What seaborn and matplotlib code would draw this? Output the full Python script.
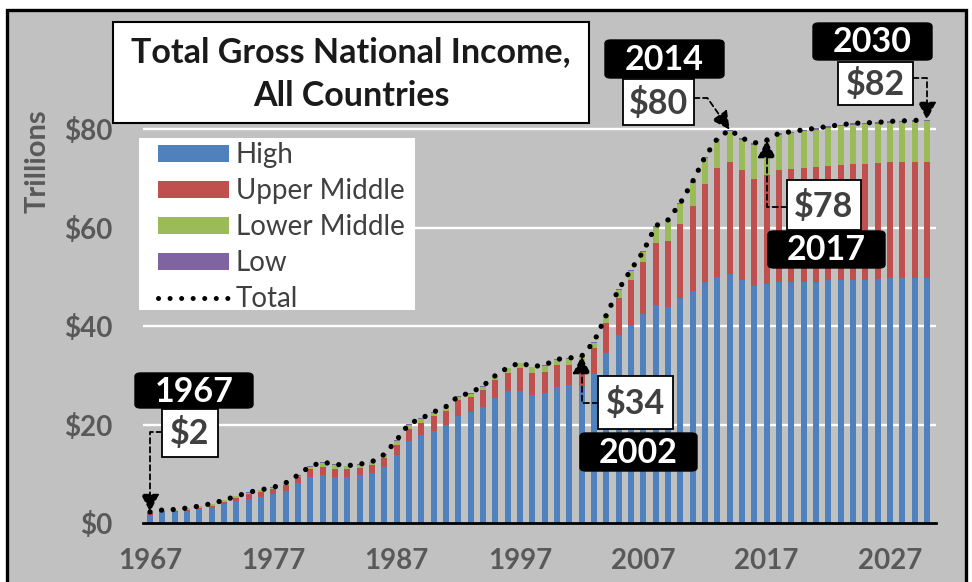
import numpy as np
import pandas as pd
import matplotlib
matplotlib.use("Agg")
import matplotlib.pyplot as plt
import seaborn as sns
from matplotlib.patches import Patch, Rectangle, FancyBboxPatch
from matplotlib.lines import Line2D

# ---------------------------------------------------------------- data (trillions of US$)
years = list(range(1967, 2031))

high = [1.7, 2.2, 2.2, 2.5, 2.9, 3.1, 3.9, 4.6, 4.9, 5.4,
        5.9, 6.6, 8.2, 9.5, 9.9, 9.5, 9.5, 9.8, 10.3, 11.5,
        13.9, 16.8, 17.9, 18.8, 20.0, 21.7, 22.5, 23.7, 25.4, 26.9,
        26.9, 26.0, 26.5, 27.7, 28.1, 27.9, 30.3, 34.6, 38.2, 40.3,
        42.5, 44.3, 44.0, 45.7, 47.2, 48.9, 50.1, 50.6, 49.4, 48.2,
        48.6, 48.9, 48.9, 48.9, 48.9, 49.3, 49.4, 49.4, 49.4, 49.5,
        49.7, 49.7, 49.7, 49.7]

upper_middle = [0.3, 0.3, 0.3, 0.3, 0.3, 0.5, 0.5, 0.6, 1.0, 1.0,
                1.0, 1.2, 1.2, 1.6, 1.6, 1.6, 1.5, 1.5, 1.5, 1.8,
                2.0, 2.4, 2.5, 2.9, 2.9, 3.3, 3.2, 3.4, 3.7, 3.7,
                4.6, 4.6, 4.3, 4.4, 4.0, 4.3, 5.2, 6.1, 7.5, 9.0,
                10.5, 12.7, 13.4, 15.0, 17.2, 20.0, 22.0, 22.7, 22.3, 21.8,
                22.2, 22.8, 23.1, 23.2, 23.5, 23.2, 23.3, 23.5, 23.6, 23.7,
                23.6, 23.6, 23.6, 23.6]

lower_middle = [0.25, 0.15, 0.25, 0.25, 0.25, 0.35, 0.25, 0.25, 0.35, 0.3,
                0.3, 0.3, 0.3, 0.4, 0.8, 0.8, 0.6, 0.6, 0.6, 0.6,
                0.9, 0.85, 0.75, 0.75, 0.65, 0.65, 0.65, 0.65, 0.75, 0.85,
                0.95, 1.05, 1.2, 1.05, 1.3, 1.6, 1.2, 1.4, 1.6, 2.0,
                2.0, 3.2, 4.0, 4.1, 4.7, 5.2, 5.7, 6.3, 6.2, 6.9,
                6.7, 7.2, 7.2, 7.5, 7.5, 7.8, 7.9, 8.0, 8.0, 7.9,
                8.0, 8.1, 8.2, 8.3]

low = [0.05] * 9 + [0.1] * 12 + [0.15] * 16 + [0.2] * 7 + [0.3] * 20

tick_years = [1967, 1977, 1987, 1997, 2007, 2017, 2027]
y_ticks = [0, 20, 40, 60, 80]
callout_years = [1967, 2002, 2014, 2017, 2030]

# ---------------------------------------------------------------- style
BLUE, RED, GREEN, PURPLE = "#4f81bd", "#c0504d", "#9bbb59", "#8064a2"
GRAY_BG = "#c1c1c1"
LABEL_GRAY = "#595959"

sns.set_style("white")
plt.rcParams["font.family"] = ["Lato", "DejaVu Sans"]

W, H = 972, 582
fig = plt.figure(figsize=(W / 100, H / 100), dpi=100, facecolor="white")


def fx(x):
    return x / W


def fy(y):
    return 1 - y / H


# gray chart area with black frame
fig.patches.append(Rectangle((fx(7), fy(600)), (966 - 7) / W, (600 - 10) / H,
                             transform=fig.transFigure, facecolor=GRAY_BG,
                             edgecolor="black", lw=2.4, zorder=-1))

ax = fig.add_axes([fx(143), fy(523.3), (936 - 143) / W, (523.3 - 80) / H])
ax.set_facecolor("none")

df = pd.DataFrame({"year": years, "High": high, "Upper Middle": upper_middle,
                   "Lower Middle": lower_middle, "Low": low})
df["c_high"] = df["High"]
df["c_upper"] = df["c_high"] + df["Upper Middle"]
df["c_lower"] = df["c_upper"] + df["Lower Middle"]
df["total"] = df["c_lower"] + df["Low"]

# stacked bars: cumulative layers drawn from the top segment down
for col, color in [("total", PURPLE), ("c_lower", GREEN),
                   ("c_upper", RED), ("c_high", BLUE)]:
    sns.barplot(data=df, x="year", y=col, color=color, saturation=1,
                width=0.5, linewidth=0, errorbar=None, ax=ax, zorder=2)

# dotted total line
pos = np.arange(len(years))
sns.lineplot(x=pos, y=df["total"].to_numpy(), ax=ax, color="black", lw=3.8)
tot_line = ax.lines[-1]
tot_line.set_linestyle((0, (0.01, 2.2)))
tot_line.set_dash_capstyle("round")
tot_line.set_zorder(4)

for v in y_ticks[1:]:
    ax.axhline(v, color="white", lw=1.7, zorder=1)

ax.set_xlim(-0.57, len(years) - 1 + 0.73)
ax.set_ylim(0, 90)
ax.set_xticks([years.index(y) for y in tick_years])
ax.set_xticklabels([str(y) for y in tick_years])
ax.set_yticks(y_ticks)
ax.set_yticklabels([f"${v}" for v in y_ticks])
ax.set_xlabel("")
ax.set_ylabel("")
ax.tick_params(length=0, labelsize=20, labelcolor=LABEL_GRAY)
ax.tick_params(axis="y", pad=22)
ax.tick_params(axis="x", pad=18)
for lab in ax.get_xticklabels() + ax.get_yticklabels():
    lab.set_fontweight("bold")
for s in ["left", "top", "right"]:
    ax.spines[s].set_visible(False)
ax.spines["bottom"].set_color("black")
ax.spines["bottom"].set_linewidth(2)
ax.spines["bottom"].set_zorder(5)

fig.text(fx(38), fy(161), "Trillions", rotation=90, ha="center", va="center",
         fontsize=21, fontweight="bold", color=LABEL_GRAY)

# title box
fig.patches.append(Rectangle((fx(113), fy(123)), (589 - 113) / W, (123 - 22) / H,
                             transform=fig.transFigure, facecolor="white",
                             edgecolor="black", lw=1.5, zorder=3))
fig.text(fx(351), fy(52), "Total Gross National Income,", ha="center", va="center",
         fontsize=24.5, fontweight="bold", color="#1a1a1a", zorder=4)
fig.text(fx(351), fy(96), "All Countries", ha="center", va="center",
         fontsize=24.5, fontweight="bold", color="#1a1a1a", zorder=4)

# legend on a white panel
ax.add_patch(Rectangle((fx(139), fy(310)), (415 - 139) / W, (310 - 138) / H,
                       transform=fig.transFigure, facecolor="white",
                       edgecolor="none", zorder=6, clip_on=False))
handles = [Patch(facecolor=c, edgecolor="none") for c in (BLUE, RED, GREEN, PURPLE)]
handles.append(Line2D([], [], color="black", lw=3.6, linestyle=(0, (0.01, 2.3)),
                      dash_capstyle="round"))
leg = ax.legend(handles, ["High", "Upper Middle", "Lower Middle", "Low", "Total"],
                loc="upper left", bbox_to_anchor=(fx(158), fy(142)),
                bbox_transform=fig.transFigure, frameon=False, borderpad=0,
                borderaxespad=0, handlelength=2.55, handleheight=0.55,
                handletextpad=0.25, labelspacing=0.36, prop=dict(size=20),
                labelcolor="#404040")
leg.set_zorder(7)

# callouts: (black year box), (white value box), arrow start, connection
callout_layout = {
    1967: dict(black=(135, 373, 253, 408), white=(162, 409, 218, 457),
               start=(162, 432), conn="angle,angleA=180,angleB=90,rad=0"),
    2002: dict(black=(580, 433, 697, 471), white=(598, 376, 673, 429),
               start=(598, 403), conn="angle,angleA=180,angleB=-90,rad=0"),
    2014: dict(black=(605, 40, 724, 78), white=(623, 79, 694, 125),
               start=(694, 98), conn="angle,angleA=0,angleB=125,rad=0"),
    2017: dict(black=(768, 231, 885, 268), white=(787, 180, 861, 230),
               start=(787, 207), conn="angle,angleA=180,angleB=-90,rad=0"),
    2030: dict(black=(813, 23, 932, 60), white=(838, 62, 913, 105),
               start=(913, 78), conn="angle,angleA=0,angleB=90,rad=0"),
}

for yr in callout_years:
    i = years.index(yr)
    total = df["total"].iloc[i]
    lay = callout_layout[yr]
    x0, y0, x1, y1 = lay["black"]
    fig.patches.append(FancyBboxPatch((fx(x0), fy(y1)), (x1 - x0) / W, (y1 - y0) / H,
                                      boxstyle="round,pad=0,rounding_size=0.006",
                                      transform=fig.transFigure, facecolor="black",
                                      edgecolor="black", lw=1, zorder=8))
    fig.text(fx((x0 + x1) / 2), fy((y0 + y1) / 2 + 1), str(yr), ha="center",
             va="center", fontsize=24.5, fontweight="bold", color="white", zorder=9)
    x0, y0, x1, y1 = lay["white"]
    fig.patches.append(Rectangle((fx(x0), fy(y1)), (x1 - x0) / W, (y1 - y0) / H,
                                 transform=fig.transFigure, facecolor="white",
                                 edgecolor="black", lw=1.3, zorder=8))
    fig.text(fx((x0 + x1) / 2), fy((y0 + y1) / 2 + 1), f"${total:.0f}", ha="center",
             va="center", fontsize=24.5, fontweight="bold", color="#404040", zorder=9)
    sx, sy = lay["start"]
    ax.annotate("", xy=(i, total), xycoords="data",
                xytext=(fx(sx), fy(sy)), textcoords="figure fraction",
                annotation_clip=False,
                arrowprops=dict(arrowstyle="-|>,head_length=0.55,head_width=0.28",
                                connectionstyle=lay["conn"], color="black",
                                lw=1.3, linestyle=(0, (3, 2)), shrinkA=0,
                                shrinkB=0, mutation_scale=20),
                zorder=6)

fig.savefig("out.png", dpi=100, facecolor="white")
